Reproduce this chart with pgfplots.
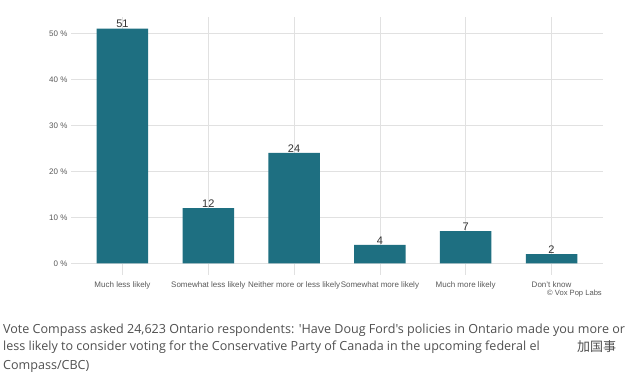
\documentclass[border=0pt]{standalone}
\usepackage{pgfplots}
\pgfplotsset{compat=1.18}
\usepackage{fontspec}
\setmainfont{Liberation Sans}
\newfontfamily\capfont{Open Sans}
\newfontfamily\cjk{Noto Sans CJK SC}
\definecolor{barc}{RGB}{30,111,129}
\definecolor{tickc}{RGB}{90,90,90}
\definecolor{gridc}{RGB}{225,225,225}
\definecolor{capc}{RGB}{80,80,80}
\begin{document}
\begin{tikzpicture}[x=1pt,y=1pt]
\fill[white] (0,0) rectangle (637,375);
\begin{axis}[
  at={(71pt,100pt)}, anchor=south west,
  width=532pt, height=258pt, scale only axis,
  xmin=-0.6, xmax=5.6, ymin=-2.55, ymax=53.55,
  axis line style={draw=none},
  tick style={draw=none},
  xmajorgrids, ymajorgrids,
  major grid style={color=gridc, line width=0.7pt},
  ytick={0,10,20,30,40,50},
  yticklabels={0 \%,10 \%,20 \%,30 \%,40 \%,50 \%},
  xtick={0,1,2,3,4,5},
  xticklabels={Much less likely,Somewhat less likely,Neither more or less likely,Somewhat more likely,Much more likely,Don't know},
  ticklabel style={font=\fontsize{8}{9}\selectfont, text=tickc},
  xticklabel style={yshift=1pt},
  /pgf/number format/assume math mode=true,
  ybar, bar width=0.6,
  nodes near coords,
  nodes near coords style={font=\fontsize{11}{11}\selectfont, text=black!80, anchor=south, inner sep=0.5pt},
]
\addplot[fill=barc, draw=none] coordinates {(0,51) (1,12) (2,24) (3,4) (4,7) (5,2)};
\end{axis}
\node[anchor=east, font=\fontsize{7.6}{8}\selectfont, text=tickc, inner sep=0] at (602,81) {\textcopyright{} Vox Pop Labs};
\begin{scope}[capc]
\node[anchor=west, inner sep=0, font=\capfont\fontsize{12.55}{14}\selectfont] at (3,45) {Vote Compass asked 24,623 Ontario respondents: 'Have Doug Ford's policies in Ontario made you more or};
\node[anchor=west, inner sep=0, font=\capfont\fontsize{12.55}{14}\selectfont] at (3,28) {less likely to consider voting for the Conservative Party of Canada in the upcoming federal el};
\node[anchor=west, inner sep=0, font=\cjk\fontsize{13}{14}\selectfont] at (577,28) {加国事};
\node[anchor=west, inner sep=0, font=\capfont\fontsize{12.55}{14}\selectfont] at (3,9) {Compass/CBC)};
\end{scope}
\end{tikzpicture}
\end{document}
